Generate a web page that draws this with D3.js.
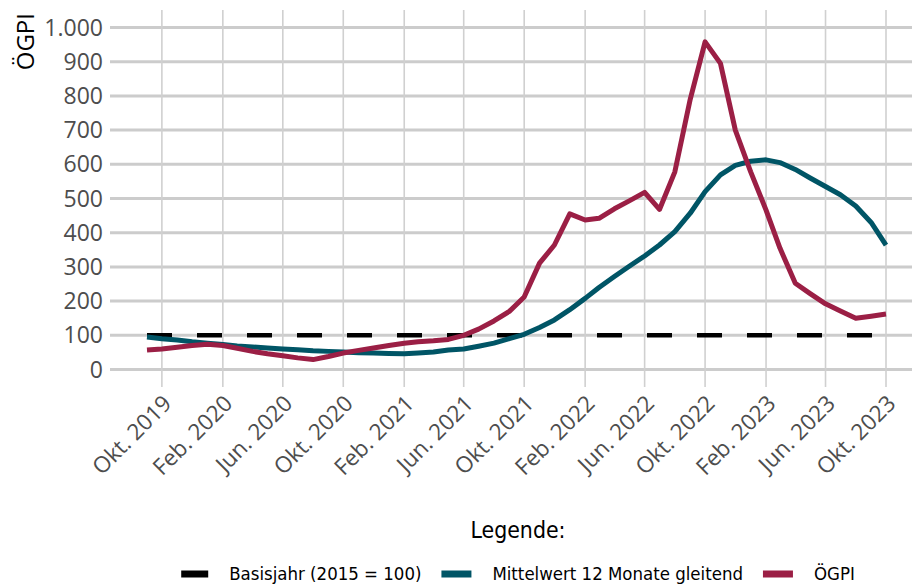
<!DOCTYPE html>
<html>
<head>
<meta charset="utf-8">
<script src="https://d3js.org/d3.v7.min.js"></script>
<style>
    body { margin: 0; background: #fff; }
    svg { display: block; }
    .tick-label { font-family: "Open Sans", "Noto Sans", sans-serif; fill: #4d4d4d; }
    .legend-text { font-family: "Liberation Sans Narrow", "DejaVu Sans Condensed", Lato, sans-serif; fill: #000; }
</style>
</head>
<body>
<svg width="912" height="585"></svg>
<script>
    // monthly values, Sep 2019 .. Okt 2023
    const startMonth = [2019, 8];
    const oegpi = [57, 60, 65, 70, 74, 70, 62, 53, 46, 40, 34, 29, 38, 48, 56, 63, 70, 77, 81, 84,
        88, 100, 118, 142, 170, 212, 311, 364, 455, 437, 442, 470, 493, 518, 468, 578, 790, 958, 895, 700,
        578, 466, 355, 252, 222, 192, 171, 150, 156, 162];
    const mittelwert = [95, 90, 86, 81, 77, 73, 69, 66, 63, 60, 58, 55, 53, 51, 49, 48, 47, 46, 48, 51,
        57, 60, 68, 77, 90, 103, 123, 145, 175, 208, 240, 272, 302, 332, 364, 403, 457, 520, 569, 597,
        609, 613, 605, 585, 560, 535, 511, 478, 430, 364];
    const basisjahr = 100;
    const yTicks = [0, 100, 200, 300, 400, 500, 600, 700, 800, 900, 1000];
    const xTickLabels = ["Okt. 2019", "Feb. 2020", "Jun. 2020", "Okt. 2020", "Feb. 2021", "Jun. 2021", "Okt. 2021",
        "Feb. 2022", "Jun. 2022", "Okt. 2022", "Feb. 2023", "Jun. 2023", "Okt. 2023"];
    const legendLabels = ["Basisjahr (2015 = 100)", "Mittelwert 12 Monate gleitend", "ÖGPI"];
    const colors = { base: "#000000", avg: "#005566", idx: "#9b1f45" };

    const n = oegpi.length;
    const months = d3.range(n).map(i => new Date(Date.UTC(startMonth[0], startMonth[1] + i, 1)));
    const xTickDates = xTickLabels.map((_, i) => new Date(Date.UTC(2019, 9 + 4 * i, 1)));

    const svg = d3.select("svg");
    const panel = { left: 110, right: 912, top: 10, bottom: 387 };

    const x = d3.scaleUtc().domain([months[0], months[n - 1]]).range([147, 886]);
    const y = d3.scaleLinear().domain([0, 1000]).range([369.5, 27.5]);

    // grid
    svg.append("g").selectAll("line")
        .data(yTicks).enter().append("line")
        .attr("x1", panel.left).attr("x2", panel.right)
        .attr("y1", d => y(d)).attr("y2", d => y(d))
        .attr("stroke", "#cccccc").attr("stroke-width", 3);
    svg.append("g").selectAll("line")
        .data(xTickDates).enter().append("line")
        .attr("x1", d => x(d)).attr("x2", d => x(d))
        .attr("y1", panel.top).attr("y2", panel.bottom)
        .attr("stroke", "#d0d0d0").attr("stroke-width", 1.6);

    // y axis labels
    const fmt = d3.formatLocale({ decimal: ",", thousands: ".", grouping: [3], currency: ["", "€"] }).format(",d");
    svg.append("g").selectAll("text")
        .data(yTicks).enter().append("text")
        .attr("class", "tick-label")
        .attr("x", 103).attr("y", d => y(d))
        .attr("dy", "0.35em").attr("text-anchor", "end")
        .attr("font-size", 23)
        .text(d => fmt(d));

    svg.append("text")
        .attr("transform", "translate(34,13) rotate(-90)")
        .attr("text-anchor", "end")
        .attr("font-family", "'Open Sans', 'Noto Sans', sans-serif")
        .attr("font-size", 24).attr("fill", "#000")
        .text("ÖGPI");

    // x axis labels
    svg.append("g").selectAll("text")
        .data(xTickDates).enter().append("text")
        .attr("class", "tick-label")
        .attr("font-size", 22.5)
        .attr("text-anchor", "end")
        .attr("transform", d => `translate(${x(d) + 11},${405}) rotate(-45)`)
        .text((d, i) => xTickLabels[i]);

    // lines
    const line = d3.line().x((d, i) => x(months[i])).y(d => y(d));
    svg.append("line")
        .attr("x1", x(months[0])).attr("x2", x(months[n - 1]))
        .attr("y1", y(basisjahr)).attr("y2", y(basisjahr))
        .attr("stroke", colors.base).attr("stroke-width", 4.5)
        .attr("stroke-dasharray", "25,25");
    svg.append("path").datum(mittelwert)
        .attr("d", line).attr("fill", "none")
        .attr("stroke", colors.avg).attr("stroke-width", 5).attr("stroke-linejoin", "round");
    svg.append("path").datum(oegpi)
        .attr("d", line).attr("fill", "none")
        .attr("stroke", colors.idx).attr("stroke-width", 5).attr("stroke-linejoin", "round");

    // legend (font sized so the text widths match the original, narrow font)
    const title = svg.append("text")
        .attr("class", "legend-text")
        .attr("x", 518).attr("y", 538)
        .attr("text-anchor", "middle").attr("font-size", 20)
        .text("Legende:");
    title.attr("font-size", 20 * 95 / title.node().getComputedTextLength());

    const legendColors = [colors.base, colors.avg, colors.idx];
    const keyW = [27, 30, 30];
    const lg = svg.append("g");
    const texts = legendLabels.map(label => lg.append("text").attr("class", "legend-text")
        .attr("y", 6).attr("font-size", 20).text(label));
    const sumW = d3.sum(texts, t => t.node().getComputedTextLength());
    const fs = Math.min(22, 20 * 484 / sumW);
    let cx = 0;
    texts.forEach((t, i) => {
        t.attr("font-size", fs);
        lg.append("rect").attr("x", cx).attr("y", -3.5).attr("width", keyW[i]).attr("height", 7)
            .attr("fill", legendColors[i]);
        t.attr("x", cx + keyW[i] + 21);
        cx += keyW[i] + 21 + t.node().getComputedTextLength() + 20;
    });
    const total = cx - 20;
    lg.attr("transform", `translate(${518 - total / 2},574)`);
</script>
</body>
</html>
